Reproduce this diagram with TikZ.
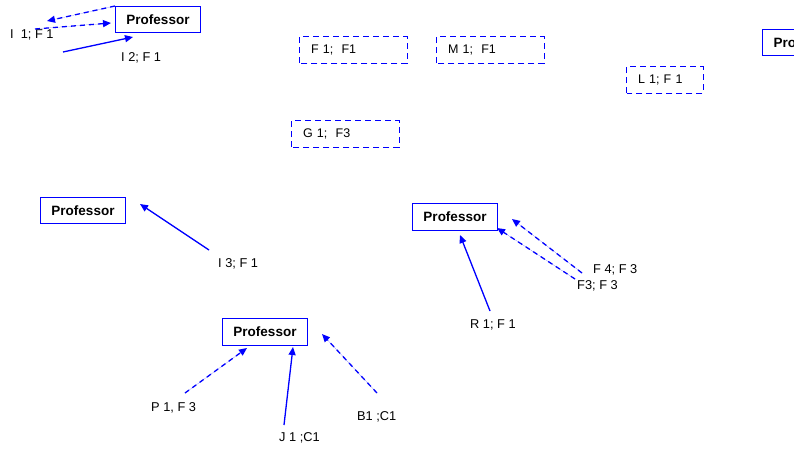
\documentclass[tikz,border=0pt]{standalone}
\usepackage{fontspec}
\setmainfont{Liberation Sans}
\usetikzlibrary{arrows.meta}
\definecolor{linkblue}{RGB}{0,0,255}
\begin{document}
\begin{tikzpicture}[x=1pt,y=-1pt,
  prof/.style={minimum width=84pt, minimum height=26pt, inner sep=0pt,
    font=\fontsize{13.5}{15}\selectfont\bfseries},
  tag/.style={minimum height=26pt, inner xsep=11pt, inner ysep=0pt, align=left,
    font=\fontsize{12.5}{14}\selectfont},
  lbl/.style={anchor=west, inner sep=0pt, font=\fontsize{12.8}{14}\selectfont},
  frame/.style={draw=linkblue, line width=0.9pt},
  dframe/.style={frame, dash pattern=on 6pt off 4pt},
  link/.style={draw=linkblue, fill=linkblue, line width=1.3pt, -{Triangle[length=8pt,width=7pt]}},
  dlink/.style={link, dash pattern=on 5pt off 4pt}]
\useasboundingbox (0,0) rectangle (794,453);
\clip (0,0) rectangle (794,453);

% Professor boxes
\node[prof] (pa) at (158,19.5) {Professor};
\node[prof] (pb) at (83,210.5) {Professor};
\node[prof] (pc) at (455,217) {Professor};
\node[prof] (pd) at (265,332) {Professor};
\node[prof] (pe) at (805,42.5) {Professor};

% dashed tag boxes
\node[tag, text width=85pt] (f1) at (353.5,50) {F 1;~ F1};
\node[tag, text width=85pt] (m1) at (490.5,50) {M 1;~ F1};
\node[tag, text width=85pt] (g1) at (345.5,134) {G 1;~ F3};
\node[tag, text width=54pt] (l1) at (665,80) {L 1; F 1};

% box outlines
\foreach \n in {pa,pb,pc,pd,pe}
  \draw[frame] (\n.south west) rectangle (\n.north east);
\foreach \n in {f1,m1,g1,l1}
  \draw[dframe] (\n.south west) rectangle (\n.north east);

% labels
\node[lbl] (i1) at (10,35) {I~ 1; F 1};
\node[lbl] (i2) at (121,58) {I 2; F 1};
\node[lbl] (i3) at (218,264) {I 3; F 1};
\node[lbl] (r1) at (470,325) {R 1; F 1};
\node[lbl] (f4) at (593,270) {F 4; F 3};
\node[lbl] (f3) at (577,286) {F3; F 3};
\node[lbl] (p1) at (151,408) {P 1, F 3};
\node[lbl] (j1) at (279,438) {J 1 ;C1};
\node[lbl] (b1) at (357,417) {B1 ;C1};

% connector end points
\coordinate (a1s) at (115,6);   \coordinate (a1e) at (47,21);
\coordinate (a2s) at (35,29);   \coordinate (a2e) at (111,23);
\coordinate (a3s) at (63,52);   \coordinate (a3e) at (133,37);
\coordinate (b1s) at (209,250); \coordinate (b1e) at (140,204);
\coordinate (c1s) at (490,311); \coordinate (c1e) at (460,235);
\coordinate (c2s) at (582,273); \coordinate (c2e) at (512,219);
\coordinate (c3s) at (575,279); \coordinate (c3e) at (497,228);
\coordinate (d1s) at (185,393); \coordinate (d1e) at (247,348);
\coordinate (d2s) at (284,425); \coordinate (d2e) at (293,347);
\coordinate (d3s) at (377,393); \coordinate (d3e) at (322,334);

% connectors
\draw[dlink] (a1s) -- (a1e);
\draw[dlink] (a2s) -- (a2e);
\draw[link]  (a3s) -- (a3e);
\draw[link]  (b1s) -- (b1e);
\draw[link]  (c1s) -- (c1e);
\draw[dlink] (c2s) -- (c2e);
\draw[dlink] (c3s) -- (c3e);
\draw[dlink] (d1s) -- (d1e);
\draw[link]  (d2s) -- (d2e);
\draw[dlink] (d3s) -- (d3e);
\end{tikzpicture}
\end{document}
